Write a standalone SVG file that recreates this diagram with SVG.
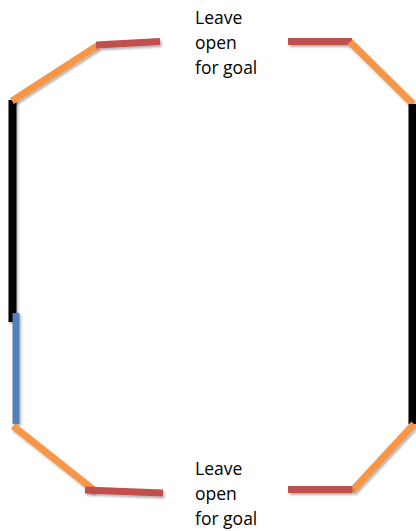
<svg xmlns="http://www.w3.org/2000/svg" width="416" height="531" viewBox="0 0 416 531">
<style>
.s{stroke-width:7;stroke-linecap:butt;fill:none;filter:url(#sh)}
.o{stroke:#F79646}
.r{stroke:#C0504D}
.b{stroke:#4F81BD}
.k{stroke:#000;stroke-width:8}
text{font-family:"Open Sans","Liberation Sans",sans-serif;font-size:17.5px;fill:#000}
</style>
<defs>
<filter id="sh" filterUnits="userSpaceOnUse" x="0" y="0" width="416" height="531">
<feDropShadow dx="1.5" dy="2" stdDeviation="1.2" flood-color="#000" flood-opacity="0.3"/>
</filter>
</defs>
<rect width="416" height="531" fill="#fff"/>
<g id="walls">
<line class="s k" x1="12.5" y1="100" x2="12.5" y2="322"/>
<line class="s b" x1="16" y1="313" x2="16" y2="424"/>
<line class="s o" x1="12" y1="101" x2="97" y2="46"/>
<line class="s r" x1="96" y1="45" x2="160" y2="41.5"/>
<line class="s r" x1="288" y1="41.5" x2="352" y2="41.5"/>
<line class="s o" x1="350" y1="42" x2="413" y2="104"/>
<line class="s k" x1="412.5" y1="104" x2="412.5" y2="424"/>
<line class="s o" x1="414" y1="424" x2="352" y2="491"/>
<line class="s r" x1="352" y1="489.5" x2="288" y2="489.5"/>
<line class="s o" x1="13" y1="426" x2="95" y2="491"/>
<line class="s r" x1="85" y1="490" x2="163" y2="493"/>
</g>
<g id="top-label">
<text x="195" y="24">Leave</text>
<text x="195" y="49">open</text>
<text x="195" y="74">for goal</text>
</g>
<g id="bottom-label">
<text x="195" y="475">Leave</text>
<text x="195" y="500">open</text>
<text x="195" y="525">for goal</text>
</g>
</svg>
